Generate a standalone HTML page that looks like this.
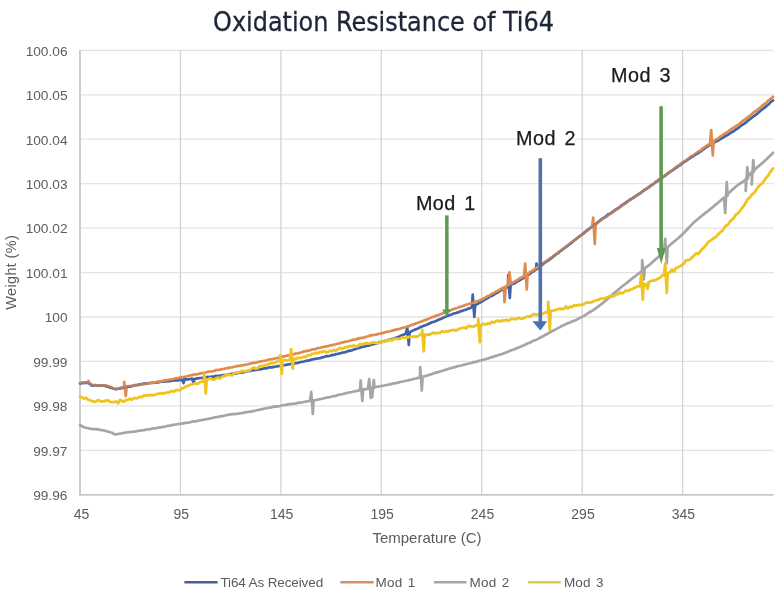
<!DOCTYPE html>
<html><head><meta charset="utf-8"><title>Oxidation Resistance of Ti64</title>
<style>
html,body{margin:0;padding:0;background:#fff;}
body{width:780px;height:592px;overflow:hidden;}
svg{display:block;}
text{font-family:"Liberation Sans",Arial,sans-serif;}
</style></head><body>
<svg width="780" height="592" viewBox="0 0 780 592">
<defs><clipPath id="cb"><rect x="78" y="360" width="70" height="40"/><rect x="540" y="90" width="160" height="180"/></clipPath></defs>
<rect width="780" height="592" fill="#fff"/>
<text x="383.5" y="31.2" text-anchor="middle" font-size="26.6" font-stretch="condensed" textLength="340.8" lengthAdjust="spacingAndGlyphs" style="font-family:'DejaVu Sans Condensed','DejaVu Sans',sans-serif" fill="#1d2638" stroke="#1d2638" stroke-width="0.3">Oxidation Resistance of Ti64</text>
<g stroke="#e3e3e3" stroke-width="1.3"><line x1="81" y1="50.3" x2="773.5" y2="50.3"/><line x1="81" y1="94.8" x2="773.5" y2="94.8"/><line x1="81" y1="139.2" x2="773.5" y2="139.2"/><line x1="81" y1="183.6" x2="773.5" y2="183.6"/><line x1="81" y1="228.1" x2="773.5" y2="228.1"/><line x1="81" y1="272.6" x2="773.5" y2="272.6"/><line x1="81" y1="317.0" x2="773.5" y2="317.0"/><line x1="81" y1="361.4" x2="773.5" y2="361.4"/><line x1="81" y1="405.9" x2="773.5" y2="405.9"/><line x1="81" y1="450.4" x2="773.5" y2="450.4"/></g>
<g stroke="#d3d3d3" stroke-width="1.3"><line x1="180.4" y1="50.3" x2="180.4" y2="494.8"/><line x1="280.9" y1="50.3" x2="280.9" y2="494.8"/><line x1="381.3" y1="50.3" x2="381.3" y2="494.8"/><line x1="481.7" y1="50.3" x2="481.7" y2="494.8"/><line x1="582.2" y1="50.3" x2="582.2" y2="494.8"/><line x1="682.6" y1="50.3" x2="682.6" y2="494.8"/></g>
<g stroke="#c9c9c9" stroke-width="1.8"><line x1="80" y1="50" x2="80" y2="495.5"/><line x1="79" y1="494.8" x2="773.5" y2="494.8"/></g>
<g font-size="13.7" fill="#5e5e5e"><text x="67.5" y="500.1" text-anchor="end">99.96</text><text x="67.5" y="455.7" text-anchor="end">99.97</text><text x="67.5" y="411.2" text-anchor="end">99.98</text><text x="67.5" y="366.8" text-anchor="end">99.99</text><text x="67.5" y="322.3" text-anchor="end">100</text><text x="67.5" y="277.9" text-anchor="end">100.01</text><text x="67.5" y="233.4" text-anchor="end">100.02</text><text x="67.5" y="189.0" text-anchor="end">100.03</text><text x="67.5" y="144.5" text-anchor="end">100.04</text><text x="67.5" y="100.0" text-anchor="end">100.05</text><text x="67.5" y="55.6" text-anchor="end">100.06</text></g>
<g font-size="14" fill="#5b5b5b" text-anchor="middle"><text x="81.6" y="519">45</text><text x="181.2" y="519">95</text><text x="281.7" y="519">145</text><text x="382.1" y="519">195</text><text x="482.5" y="519">245</text><text x="583.0" y="519">295</text><text x="683.4" y="519">345</text></g>
<text x="427" y="542.7" text-anchor="middle" font-size="15" fill="#5b5b5b">Temperature (C)</text>
<text transform="translate(16,272.3) rotate(-90)" text-anchor="middle" font-size="14.5" letter-spacing="0.35" fill="#5b5b5b">Weight (%)</text>
<g fill="none" stroke-linejoin="round" stroke-linecap="round">
<path d="M80.0 383.5 L82.0 383.1 L84.0 383.0 L86.0 382.7 L88.0 382.9 L90.0 384.2 L92.0 385.7 L94.0 385.4 L96.0 385.4 L98.0 385.6 L100.0 385.5 L102.0 385.6 L104.0 385.6 L106.0 386.1 L108.0 386.6 L110.0 387.6 L112.0 388.0 L114.0 388.8 L116.0 389.2 L118.0 388.7 L120.0 388.4 L122.0 387.9 L124.0 387.8 L126.0 387.3 L128.0 386.7 L130.0 386.6 L132.0 386.0 L134.0 385.6 L136.0 385.0 L138.0 384.9 L140.0 384.4 L142.0 384.0 L144.0 383.7 L146.0 383.5 L148.0 383.4 L150.0 383.0 L152.0 383.0 L154.0 382.7 L156.0 382.6 L158.0 382.3 L160.0 382.0 L162.0 381.5 L164.0 381.6 L166.0 381.5 L168.0 381.2 L170.0 381.1 L172.0 380.7 L174.0 380.5 L176.0 380.3 L178.0 380.4 L180.0 380.0 L182.0 379.7 L183.5 383.0 L184.8 379.4 L184.0 379.4 L186.0 379.4 L188.0 379.4 L190.0 379.0 L192.0 378.7 L193.5 382.5 L194.8 378.8 L194.0 378.8 L196.0 378.6 L198.0 378.3 L200.0 378.0 L202.0 377.9 L204.0 377.6 L206.0 377.4 L208.0 376.9 L210.0 377.0 L212.0 376.6 L214.0 376.7 L216.0 375.8 L218.0 376.0 L220.0 375.7 L222.0 375.3 L224.0 375.1 L226.0 374.9 L228.0 374.6 L230.0 374.1 L232.0 373.9 L234.0 373.7 L236.0 373.5 L238.0 373.0 L240.0 372.6 L242.0 372.3 L244.0 372.1 L246.0 371.5 L248.0 371.1 L250.0 371.0 L252.0 370.5 L254.0 370.2 L256.0 370.0 L258.0 369.7 L260.0 369.1 L262.0 369.1 L264.0 368.4 L266.0 368.4 L268.0 367.7 L270.0 367.4 L272.0 367.4 L274.0 366.9 L276.0 366.5 L278.0 366.2 L280.0 366.0 L282.0 365.6 L284.0 365.2 L286.0 365.0 L288.0 364.4 L290.0 364.1 L292.0 363.7 L294.0 363.5 L296.0 363.1 L298.0 362.8 L300.0 362.2 L302.0 361.8 L304.0 361.5 L306.0 360.8 L308.0 360.6 L310.0 360.1 L312.0 359.5 L314.0 359.1 L316.0 358.7 L318.0 358.5 L320.0 358.2 L322.0 357.4 L324.0 357.0 L326.0 356.2 L328.0 356.1 L330.0 355.7 L332.0 355.1 L334.0 354.9 L336.0 354.1 L338.0 353.8 L340.0 353.4 L342.0 352.7 L344.0 352.5 L346.0 352.0 L348.0 351.1 L350.0 350.6 L352.0 350.3 L354.0 349.6 L356.0 348.7 L358.0 348.2 L360.0 347.6 L362.0 347.0 L364.0 346.6 L366.0 346.0 L368.0 345.7 L370.0 345.1 L372.0 344.5 L374.0 344.0 L376.0 343.6 L378.0 342.9 L380.0 342.1 L382.0 341.9 L384.0 341.2 L386.0 340.9 L388.0 340.1 L390.0 339.6 L392.0 339.0 L394.0 338.6 L396.0 337.7 L398.0 336.9 L400.0 336.2 L402.0 335.2 L404.0 334.4 L406.0 333.5 L407.2 327.0 L408.8 344.8 L409.6 332.7 L408.0 332.7 L410.0 332.1 L412.0 330.9 L414.0 330.1 L416.0 329.2 L418.0 328.5 L420.0 327.3 L422.0 326.6 L424.0 325.8 L426.0 325.1 L428.0 324.1 L430.0 323.2 L432.0 322.3 L434.0 321.7 L436.0 321.0 L438.0 320.0 L440.0 319.2 L442.0 318.4 L444.0 317.3 L446.0 316.6 L448.0 315.8 L450.0 315.1 L452.0 314.3 L454.0 313.4 L456.0 313.0 L458.0 312.4 L460.0 311.5 L462.0 310.9 L464.0 310.3 L466.0 309.7 L468.0 308.6 L470.0 308.2 L472.0 307.0 L472.7 294.6 L474.3 317.0 L475.1 306.4 L474.0 306.2 L476.0 304.8 L478.0 303.6 L480.0 302.5 L482.0 301.5 L484.0 300.1 L486.0 299.0 L488.0 297.9 L490.0 296.5 L492.0 295.8 L494.0 294.5 L496.0 293.3 L498.0 292.3 L500.0 290.9 L502.0 289.9 L504.0 289.0 L506.0 287.8 L508.0 286.3 L508.2 275.0 L509.8 298.0 L510.6 285.7 L510.0 285.0 L512.0 284.3 L514.0 283.5 L516.0 282.2 L518.0 281.1 L520.0 280.1 L522.0 278.7 L524.0 277.7 L526.0 276.5 L528.0 275.1 L530.0 273.8 L532.0 272.2 L534.0 271.0 L536.0 269.4 L536.5 263.7 L537.8 268.8 L538.0 268.2 L540.0 266.9 L542.0 264.9 L544.0 263.2 L546.0 261.9 L548.0 260.5 L550.0 259.2 L552.0 257.7 L554.0 255.9 L556.0 254.4 L558.0 253.2 L560.0 251.3 L562.0 250.1 L564.0 248.3 L566.0 246.9 L568.0 245.4 L570.0 243.8 L572.0 242.3 L574.0 240.5 L576.0 239.1 L578.0 237.5 L580.0 236.0 L582.0 234.6 L584.0 232.9 L586.0 231.2 L588.0 229.7 L590.0 228.2 L592.0 226.8 L594.0 225.0 L596.0 223.8 L598.0 222.1 L600.0 220.6 L602.0 218.9 L604.0 217.7 L606.0 216.4 L608.0 214.6 L610.0 213.7 L612.0 212.3 L614.0 210.8 L616.0 209.4 L618.0 208.3 L620.0 206.8 L622.0 205.1 L624.0 203.9 L626.0 202.5 L628.0 201.2 L630.0 199.5 L632.0 198.7 L634.0 197.1 L636.0 195.9 L638.0 194.5 L640.0 193.3 L642.0 191.8 L644.0 190.3 L646.0 189.1 L648.0 187.9 L650.0 186.2 L652.0 185.0 L654.0 183.5 L656.0 181.9 L658.0 180.8 L660.0 179.1 L662.0 177.9 L664.0 176.3 L666.0 175.0 L668.0 173.3 L670.0 171.9 L672.0 170.8 L674.0 169.2 L676.0 167.8 L678.0 166.3 L680.0 165.1 L682.0 163.4 L684.0 162.1 L686.0 160.9 L688.0 159.4 L690.0 158.1 L692.0 156.9 L694.0 155.6 L696.0 154.2 L698.0 153.2 L700.0 151.8 L702.0 150.4 L704.0 148.9 L706.0 147.5 L708.0 146.1 L710.0 144.9 L712.0 143.5 L714.0 142.5 L716.0 141.6 L718.0 140.6 L720.0 139.4 L722.0 138.0 L724.0 137.0 L726.0 135.7 L728.0 134.7 L730.0 133.3 L732.0 132.1 L734.0 131.0 L736.0 129.4 L738.0 128.3 L740.0 126.5 L742.0 125.0 L744.0 123.8 L746.0 122.4 L748.0 120.6 L750.0 119.2 L752.0 117.5 L754.0 116.1 L756.0 114.7 L758.0 112.9 L760.0 111.2 L762.0 109.5 L764.0 108.1 L766.0 106.4 L768.0 104.7 L770.0 102.9 L772.0 100.9 L773.0 100.5" stroke="#3f62a8" stroke-width="2.7"/>
<path d="M80.0 383.3 L82.0 382.4 L84.0 382.7 L86.0 382.5 L88.0 382.5 L88.5 381.0 L89.8 383.1 L90.0 383.7 L92.0 384.7 L94.0 385.1 L96.0 385.1 L98.0 385.7 L100.0 385.3 L102.0 385.3 L104.0 385.4 L106.0 385.6 L108.0 386.0 L110.0 386.7 L112.0 387.6 L114.0 388.7 L116.0 389.1 L118.0 388.6 L120.0 388.0 L122.0 387.6 L124.0 386.9 L124.2 381.8 L125.8 396.0 L126.6 386.6 L126.0 386.4 L128.0 386.1 L130.0 386.0 L132.0 386.0 L134.0 385.4 L136.0 385.2 L138.0 385.1 L140.0 384.6 L142.0 384.4 L144.0 384.3 L146.0 383.9 L148.0 383.5 L150.0 383.3 L152.0 382.4 L154.0 382.7 L156.0 382.0 L158.0 381.5 L160.0 381.4 L162.0 381.1 L164.0 380.6 L166.0 380.1 L168.0 379.9 L170.0 379.5 L172.0 379.3 L174.0 378.8 L176.0 378.3 L178.0 378.1 L180.0 377.5 L182.0 377.0 L184.0 376.9 L186.0 376.5 L188.0 376.0 L190.0 375.5 L192.0 375.2 L194.0 374.4 L196.0 374.5 L198.0 374.1 L200.0 373.4 L202.0 373.2 L204.0 372.7 L206.0 372.5 L208.0 371.7 L210.0 371.5 L212.0 371.3 L214.0 371.0 L216.0 370.1 L218.0 369.9 L220.0 369.6 L222.0 369.1 L224.0 369.0 L226.0 368.2 L228.0 368.1 L230.0 367.5 L232.0 367.5 L234.0 366.8 L236.0 366.4 L238.0 365.8 L240.0 365.9 L242.0 365.4 L244.0 365.0 L246.0 364.7 L248.0 364.2 L250.0 363.6 L252.0 363.2 L254.0 362.8 L256.0 362.7 L258.0 361.9 L260.0 361.6 L262.0 361.2 L264.0 360.8 L266.0 360.5 L268.0 359.8 L270.0 359.3 L272.0 359.1 L274.0 358.8 L276.0 358.3 L278.0 357.8 L280.0 357.2 L282.0 356.8 L284.0 356.3 L286.0 356.0 L288.0 355.3 L290.0 355.0 L292.0 354.4 L294.0 354.1 L296.0 353.5 L298.0 353.4 L300.0 352.8 L302.0 352.3 L304.0 351.3 L306.0 351.1 L308.0 350.6 L310.0 350.3 L312.0 349.4 L314.0 349.4 L316.0 348.9 L318.0 348.1 L320.0 347.7 L322.0 347.2 L324.0 346.9 L326.0 346.5 L328.0 346.2 L330.0 345.4 L332.0 345.1 L334.0 344.5 L336.0 344.3 L338.0 343.6 L340.0 343.2 L342.0 342.4 L344.0 342.1 L346.0 341.5 L348.0 341.3 L350.0 340.7 L352.0 340.1 L354.0 339.6 L356.0 339.3 L358.0 338.6 L360.0 338.1 L362.0 337.8 L364.0 337.6 L366.0 336.7 L368.0 336.2 L370.0 335.6 L372.0 335.1 L374.0 335.0 L376.0 334.6 L378.0 334.0 L380.0 333.6 L382.0 333.1 L384.0 332.6 L386.0 331.9 L388.0 331.6 L390.0 331.2 L392.0 330.6 L394.0 330.1 L396.0 329.6 L398.0 329.1 L400.0 328.8 L402.0 328.0 L404.0 327.5 L406.0 327.0 L408.0 326.4 L410.0 325.8 L412.0 324.6 L414.0 324.3 L416.0 323.3 L418.0 322.7 L420.0 322.0 L422.0 321.3 L424.0 320.5 L426.0 319.7 L428.0 319.1 L430.0 318.1 L432.0 317.3 L434.0 316.7 L436.0 315.7 L438.0 315.4 L440.0 314.4 L442.0 313.8 L444.0 312.7 L446.0 311.9 L448.0 311.2 L450.0 310.6 L452.0 309.6 L454.0 309.0 L456.0 308.2 L458.0 307.8 L460.0 306.8 L462.0 306.4 L464.0 305.5 L466.0 304.8 L468.0 304.2 L470.0 303.5 L472.0 303.0 L474.0 302.5 L476.0 301.6 L478.0 300.9 L480.0 300.2 L482.0 299.2 L484.0 298.2 L486.0 297.1 L488.0 295.9 L490.0 295.2 L492.0 293.7 L494.0 292.9 L496.0 291.7 L498.0 290.8 L500.0 289.5 L502.0 288.3 L504.0 287.4 L504.5 302.2 L505.8 286.8 L506.0 286.2 L508.0 285.2 L509.5 272.3 L510.8 284.1 L510.0 284.1 L512.0 283.0 L514.0 281.9 L516.0 280.7 L518.0 279.6 L520.0 278.2 L522.0 277.3 L524.0 275.9 L525.2 263.7 L526.8 289.5 L527.6 275.0 L526.0 275.0 L528.0 273.8 L530.0 272.0 L532.0 271.0 L534.0 269.7 L536.0 268.2 L538.0 267.0 L540.0 265.5 L542.0 263.9 L544.0 262.7 L546.0 261.3 L548.0 259.9 L550.0 258.3 L552.0 257.2 L554.0 255.7 L556.0 254.0 L558.0 252.6 L560.0 251.2 L562.0 249.6 L564.0 248.4 L566.0 246.7 L568.0 245.0 L570.0 243.5 L572.0 242.1 L574.0 240.9 L576.0 239.0 L578.0 237.5 L580.0 236.1 L582.0 234.5 L584.0 233.3 L586.0 231.4 L588.0 230.1 L590.0 228.5 L592.0 227.0 L593.2 217.5 L594.8 243.9 L595.6 225.2 L594.0 225.2 L596.0 224.2 L598.0 222.4 L600.0 221.0 L602.0 219.4 L604.0 218.0 L606.0 216.8 L608.0 215.5 L610.0 214.0 L612.0 212.7 L614.0 211.3 L616.0 209.8 L618.0 208.5 L620.0 207.1 L622.0 205.6 L624.0 204.3 L626.0 203.1 L628.0 201.5 L630.0 200.1 L632.0 198.9 L634.0 197.7 L636.0 196.0 L638.0 194.6 L640.0 193.2 L642.0 192.0 L644.0 190.1 L646.0 189.0 L648.0 187.7 L650.0 185.9 L652.0 184.8 L654.0 183.2 L656.0 181.6 L658.0 180.3 L660.0 178.6 L662.0 177.3 L664.0 176.2 L666.0 174.4 L668.0 173.3 L670.0 171.6 L672.0 170.3 L674.0 168.8 L676.0 167.0 L678.0 165.8 L680.0 164.5 L682.0 162.9 L684.0 161.5 L686.0 160.3 L688.0 158.8 L690.0 157.2 L692.0 156.0 L694.0 154.8 L696.0 153.2 L698.0 152.0 L700.0 150.7 L702.0 149.1 L704.0 147.5 L706.0 146.1 L708.0 144.9 L710.0 143.6 L711.2 130.0 L712.8 155.5 L713.6 142.2 L712.0 142.2 L714.0 140.9 L716.0 139.5 L718.0 138.3 L720.0 136.9 L722.0 135.6 L724.0 134.2 L726.0 132.8 L728.0 131.6 L730.0 130.1 L732.0 128.7 L734.0 127.5 L736.0 126.0 L738.0 125.0 L740.0 123.2 L742.0 121.5 L744.0 120.2 L746.0 118.6 L748.0 117.0 L750.0 115.7 L752.0 113.9 L754.0 112.0 L756.0 111.0 L758.0 109.2 L760.0 107.9 L762.0 105.9 L764.0 104.2 L766.0 103.0 L768.0 100.9 L770.0 99.4 L772.0 97.9 L773.0 96.8" stroke="#e08a4e" stroke-width="2.7"/>
<path d="M80.0 383.5 L82.0 383.1 L84.0 383.0 L86.0 382.7 L88.0 382.9 L90.0 384.2 L92.0 385.7 L94.0 385.4 L96.0 385.4 L98.0 385.6 L100.0 385.5 L102.0 385.6 L104.0 385.6 L106.0 386.1 L108.0 386.6 L110.0 387.6 L112.0 388.0 L114.0 388.8 L116.0 389.2 L118.0 388.7 L120.0 388.4 L122.0 387.9 L124.0 387.8 L126.0 387.3 L128.0 386.7 L130.0 386.6 L132.0 386.0 L134.0 385.6 L136.0 385.0 L138.0 384.9 L140.0 384.4 L142.0 384.0 L144.0 383.7 L146.0 383.5 L148.0 383.4 L150.0 383.0 L152.0 383.0 L154.0 382.7 L156.0 382.6 L158.0 382.3 L160.0 382.0 L162.0 381.5 L164.0 381.6 L166.0 381.5 L168.0 381.2 L170.0 381.1 L172.0 380.7 L174.0 380.5 L176.0 380.3 L178.0 380.4 L180.0 380.0 L182.0 379.7 L183.5 383.0 L184.8 379.4 L184.0 379.4 L186.0 379.4 L188.0 379.4 L190.0 379.0 L192.0 378.7 L193.5 382.5 L194.8 378.8 L194.0 378.8 L196.0 378.6 L198.0 378.3 L200.0 378.0 L202.0 377.9 L204.0 377.6 L206.0 377.4 L208.0 376.9 L210.0 377.0 L212.0 376.6 L214.0 376.7 L216.0 375.8 L218.0 376.0 L220.0 375.7 L222.0 375.3 L224.0 375.1 L226.0 374.9 L228.0 374.6 L230.0 374.1 L232.0 373.9 L234.0 373.7 L236.0 373.5 L238.0 373.0 L240.0 372.6 L242.0 372.3 L244.0 372.1 L246.0 371.5 L248.0 371.1 L250.0 371.0 L252.0 370.5 L254.0 370.2 L256.0 370.0 L258.0 369.7 L260.0 369.1 L262.0 369.1 L264.0 368.4 L266.0 368.4 L268.0 367.7 L270.0 367.4 L272.0 367.4 L274.0 366.9 L276.0 366.5 L278.0 366.2 L280.0 366.0 L282.0 365.6 L284.0 365.2 L286.0 365.0 L288.0 364.4 L290.0 364.1 L292.0 363.7 L294.0 363.5 L296.0 363.1 L298.0 362.8 L300.0 362.2 L302.0 361.8 L304.0 361.5 L306.0 360.8 L308.0 360.6 L310.0 360.1 L312.0 359.5 L314.0 359.1 L316.0 358.7 L318.0 358.5 L320.0 358.2 L322.0 357.4 L324.0 357.0 L326.0 356.2 L328.0 356.1 L330.0 355.7 L332.0 355.1 L334.0 354.9 L336.0 354.1 L338.0 353.8 L340.0 353.4 L342.0 352.7 L344.0 352.5 L346.0 352.0 L348.0 351.1 L350.0 350.6 L352.0 350.3 L354.0 349.6 L356.0 348.7 L358.0 348.2 L360.0 347.6 L362.0 347.0 L364.0 346.6 L366.0 346.0 L368.0 345.7 L370.0 345.1 L372.0 344.5 L374.0 344.0 L376.0 343.6 L378.0 342.9 L380.0 342.1 L382.0 341.9 L384.0 341.2 L386.0 340.9 L388.0 340.1 L390.0 339.6 L392.0 339.0 L394.0 338.6 L396.0 337.7 L398.0 336.9 L400.0 336.2 L402.0 335.2 L404.0 334.4 L406.0 333.5 L407.2 327.0 L408.8 344.8 L409.6 332.7 L408.0 332.7 L410.0 332.1 L412.0 330.9 L414.0 330.1 L416.0 329.2 L418.0 328.5 L420.0 327.3 L422.0 326.6 L424.0 325.8 L426.0 325.1 L428.0 324.1 L430.0 323.2 L432.0 322.3 L434.0 321.7 L436.0 321.0 L438.0 320.0 L440.0 319.2 L442.0 318.4 L444.0 317.3 L446.0 316.6 L448.0 315.8 L450.0 315.1 L452.0 314.3 L454.0 313.4 L456.0 313.0 L458.0 312.4 L460.0 311.5 L462.0 310.9 L464.0 310.3 L466.0 309.7 L468.0 308.6 L470.0 308.2 L472.0 307.0 L472.7 294.6 L474.3 317.0 L475.1 306.4 L474.0 306.2 L476.0 304.8 L478.0 303.6 L480.0 302.5 L482.0 301.5 L484.0 300.1 L486.0 299.0 L488.0 297.9 L490.0 296.5 L492.0 295.8 L494.0 294.5 L496.0 293.3 L498.0 292.3 L500.0 290.9 L502.0 289.9 L504.0 289.0 L506.0 287.8 L508.0 286.3 L508.2 275.0 L509.8 298.0 L510.6 285.7 L510.0 285.0 L512.0 284.3 L514.0 283.5 L516.0 282.2 L518.0 281.1 L520.0 280.1 L522.0 278.7 L524.0 277.7 L526.0 276.5 L528.0 275.1 L530.0 273.8 L532.0 272.2 L534.0 271.0 L536.0 269.4 L536.5 263.7 L537.8 268.8 L538.0 268.2 L540.0 266.9 L542.0 264.9 L544.0 263.2 L546.0 261.9 L548.0 260.5 L550.0 259.2 L552.0 257.7 L554.0 255.9 L556.0 254.4 L558.0 253.2 L560.0 251.3 L562.0 250.1 L564.0 248.3 L566.0 246.9 L568.0 245.4 L570.0 243.8 L572.0 242.3 L574.0 240.5 L576.0 239.1 L578.0 237.5 L580.0 236.0 L582.0 234.6 L584.0 232.9 L586.0 231.2 L588.0 229.7 L590.0 228.2 L592.0 226.8 L594.0 225.0 L596.0 223.8 L598.0 222.1 L600.0 220.6 L602.0 218.9 L604.0 217.7 L606.0 216.4 L608.0 214.6 L610.0 213.7 L612.0 212.3 L614.0 210.8 L616.0 209.4 L618.0 208.3 L620.0 206.8 L622.0 205.1 L624.0 203.9 L626.0 202.5 L628.0 201.2 L630.0 199.5 L632.0 198.7 L634.0 197.1 L636.0 195.9 L638.0 194.5 L640.0 193.3 L642.0 191.8 L644.0 190.3 L646.0 189.1 L648.0 187.9 L650.0 186.2 L652.0 185.0 L654.0 183.5 L656.0 181.9 L658.0 180.8 L660.0 179.1 L662.0 177.9 L664.0 176.3 L666.0 175.0 L668.0 173.3 L670.0 171.9 L672.0 170.8 L674.0 169.2 L676.0 167.8 L678.0 166.3 L680.0 165.1 L682.0 163.4 L684.0 162.1 L686.0 160.9 L688.0 159.4 L690.0 158.1 L692.0 156.9 L694.0 155.6 L696.0 154.2 L698.0 153.2 L700.0 151.8 L702.0 150.4 L704.0 148.9 L706.0 147.5 L708.0 146.1 L710.0 144.9 L712.0 143.5 L714.0 142.5 L716.0 141.6 L718.0 140.6 L720.0 139.4 L722.0 138.0 L724.0 137.0 L726.0 135.7 L728.0 134.7 L730.0 133.3 L732.0 132.1 L734.0 131.0 L736.0 129.4 L738.0 128.3 L740.0 126.5 L742.0 125.0 L744.0 123.8 L746.0 122.4 L748.0 120.6 L750.0 119.2 L752.0 117.5 L754.0 116.1 L756.0 114.7 L758.0 112.9 L760.0 111.2 L762.0 109.5 L764.0 108.1 L766.0 106.4 L768.0 104.7 L770.0 102.9 L772.0 100.9 L773.0 100.5" stroke="#4169b0" stroke-width="2.2" opacity="0.4" clip-path="url(#cb)"/>
<path d="M80.0 425.0 L82.0 426.3 L84.0 427.2 L86.0 427.8 L88.0 428.2 L90.0 428.6 L92.0 429.0 L94.0 429.2 L96.0 429.2 L98.0 429.4 L100.0 429.9 L102.0 430.2 L104.0 430.4 L106.0 431.1 L108.0 431.5 L110.0 432.2 L112.0 432.7 L114.0 434.1 L116.0 434.3 L118.0 434.0 L120.0 433.7 L122.0 433.2 L124.0 432.9 L126.0 432.5 L128.0 432.1 L130.0 432.1 L132.0 431.9 L134.0 431.7 L136.0 431.4 L138.0 430.8 L140.0 430.6 L142.0 430.3 L144.0 430.1 L146.0 429.6 L148.0 429.4 L150.0 429.1 L152.0 428.7 L154.0 428.4 L156.0 428.2 L158.0 427.7 L160.0 427.4 L162.0 427.1 L164.0 426.6 L166.0 426.3 L168.0 425.8 L170.0 425.6 L172.0 425.1 L174.0 424.7 L176.0 424.5 L178.0 424.0 L180.0 423.8 L182.0 423.6 L184.0 423.1 L186.0 422.8 L188.0 422.6 L190.0 422.3 L192.0 421.7 L194.0 421.4 L196.0 421.3 L198.0 420.9 L200.0 420.3 L202.0 420.0 L204.0 419.7 L206.0 419.2 L208.0 418.9 L210.0 418.5 L212.0 418.1 L214.0 417.5 L216.0 417.2 L218.0 417.0 L220.0 416.3 L222.0 416.1 L224.0 415.7 L226.0 415.3 L228.0 414.9 L230.0 414.5 L232.0 414.2 L234.0 414.1 L236.0 413.8 L238.0 413.6 L240.0 413.3 L242.0 413.0 L244.0 412.6 L246.0 412.2 L248.0 412.0 L250.0 411.7 L252.0 411.4 L254.0 410.8 L256.0 410.5 L258.0 410.0 L260.0 409.7 L262.0 409.1 L264.0 408.7 L266.0 408.3 L268.0 407.9 L270.0 407.7 L272.0 407.1 L274.0 406.6 L276.0 406.6 L278.0 406.3 L280.0 406.0 L282.0 405.5 L284.0 405.2 L286.0 404.9 L288.0 404.4 L290.0 404.2 L292.0 404.0 L294.0 403.6 L296.0 403.5 L298.0 402.9 L300.0 402.6 L302.0 402.5 L304.0 402.0 L306.0 401.6 L308.0 401.2 L310.0 401.0 L311.2 391.8 L312.8 414.0 L313.6 400.8 L312.0 400.8 L314.0 400.3 L316.0 400.0 L318.0 399.5 L320.0 399.2 L322.0 398.7 L324.0 398.2 L326.0 397.8 L328.0 397.4 L330.0 397.0 L332.0 396.5 L334.0 396.1 L336.0 395.8 L338.0 395.0 L340.0 394.5 L342.0 394.3 L344.0 393.8 L346.0 393.3 L348.0 392.8 L350.0 392.3 L352.0 392.0 L354.0 391.5 L356.0 391.2 L358.0 390.6 L360.0 390.2 L360.7 380.6 L362.3 401.0 L363.1 390.0 L362.0 389.9 L364.0 389.4 L366.0 389.2 L368.0 388.7 L369.2 379.0 L370.8 397.8 L371.6 388.3 L370.0 388.3 L372.0 387.9 L372.2 397.0 L373.8 380.0 L374.6 387.7 L374.0 387.5 L376.0 387.0 L378.0 386.6 L380.0 386.2 L382.0 385.8 L384.0 385.5 L386.0 385.1 L388.0 384.7 L390.0 384.4 L392.0 383.9 L394.0 383.4 L396.0 383.1 L398.0 382.6 L400.0 382.0 L402.0 381.7 L404.0 381.3 L406.0 380.8 L408.0 380.4 L410.0 379.9 L412.0 379.5 L414.0 378.9 L416.0 378.5 L418.0 377.9 L420.0 377.5 L420.2 367.0 L421.8 390.4 L422.6 377.1 L422.0 376.7 L424.0 376.4 L426.0 375.9 L428.0 375.2 L430.0 374.6 L432.0 374.0 L434.0 373.2 L436.0 372.6 L438.0 372.1 L440.0 371.5 L442.0 371.0 L444.0 370.2 L446.0 369.8 L448.0 368.9 L450.0 368.4 L452.0 367.8 L454.0 367.4 L456.0 366.7 L458.0 366.0 L460.0 365.8 L462.0 365.3 L464.0 364.7 L466.0 364.2 L468.0 363.7 L470.0 363.3 L472.0 362.8 L474.0 362.1 L476.0 361.9 L478.0 361.1 L480.0 360.5 L482.0 360.1 L484.0 359.5 L486.0 359.1 L488.0 358.4 L490.0 357.7 L492.0 357.1 L494.0 356.5 L496.0 355.9 L498.0 355.3 L500.0 354.5 L502.0 354.1 L504.0 353.2 L506.0 352.5 L508.0 351.8 L510.0 350.8 L512.0 350.1 L514.0 349.4 L516.0 348.6 L518.0 347.7 L520.0 346.9 L522.0 346.0 L524.0 345.2 L526.0 344.2 L528.0 343.3 L530.0 342.7 L532.0 341.5 L534.0 340.6 L536.0 339.9 L538.0 338.9 L540.0 337.8 L542.0 336.7 L544.0 335.7 L546.0 334.5 L548.0 333.5 L550.0 332.4 L552.0 331.2 L554.0 330.2 L556.0 329.1 L558.0 328.1 L560.0 327.1 L562.0 325.8 L564.0 325.1 L566.0 324.0 L568.0 323.1 L570.0 322.5 L572.0 321.5 L574.0 320.7 L576.0 320.0 L578.0 318.9 L580.0 317.9 L582.0 316.9 L584.0 315.9 L586.0 314.7 L588.0 313.2 L590.0 312.0 L592.0 310.8 L594.0 309.6 L596.0 308.1 L598.0 306.7 L600.0 305.2 L602.0 303.6 L604.0 302.0 L606.0 300.4 L608.0 298.5 L610.0 296.9 L612.0 295.2 L614.0 293.2 L616.0 291.7 L618.0 289.9 L620.0 288.3 L622.0 286.5 L624.0 285.0 L626.0 283.5 L628.0 281.9 L630.0 280.2 L632.0 278.7 L634.0 277.2 L636.0 275.5 L638.0 274.0 L640.0 272.6 L642.0 270.7 L642.2 260.0 L643.8 279.4 L644.6 269.9 L644.0 269.1 L646.0 267.4 L648.0 265.8 L650.0 264.4 L652.0 262.6 L654.0 260.8 L656.0 259.0 L658.0 257.2 L660.0 255.3 L662.0 253.0 L664.0 251.1 L665.2 238.9 L666.8 263.3 L667.6 248.9 L666.0 248.9 L668.0 246.9 L670.0 245.1 L672.0 243.3 L674.0 241.6 L676.0 240.0 L678.0 238.5 L680.0 236.6 L682.0 234.8 L684.0 232.8 L686.0 230.8 L688.0 228.5 L690.0 226.4 L692.0 224.4 L694.0 222.3 L696.0 220.6 L698.0 219.0 L700.0 217.3 L702.0 215.6 L704.0 214.1 L706.0 212.4 L708.0 211.1 L710.0 209.3 L712.0 207.8 L714.0 206.0 L716.0 204.4 L718.0 202.8 L720.0 201.1 L722.0 199.2 L724.0 197.7 L725.2 213.0 L726.8 182.0 L727.6 195.7 L726.0 195.7 L728.0 193.7 L730.0 191.9 L732.0 190.0 L734.0 188.2 L736.0 186.5 L738.0 185.0 L740.0 183.5 L742.0 182.3 L744.0 181.0 L746.0 179.1 L745.7 191.0 L747.3 167.0 L748.1 178.4 L748.0 176.3 L750.0 174.0 L752.0 171.8 L751.7 184.5 L753.3 160.0 L754.1 171.4 L754.0 170.1 L756.0 168.4 L758.0 166.6 L760.0 165.1 L762.0 163.2 L764.0 161.5 L766.0 159.7 L768.0 157.7 L770.0 155.7 L772.0 154.0 L773.0 152.7" stroke="#a5a5a5" stroke-width="2.7"/>
<path d="M80.0 396.6 L82.0 397.4 L84.0 398.7 L86.0 397.8 L88.0 399.7 L90.0 400.2 L92.0 401.0 L94.0 401.9 L96.0 401.5 L98.0 400.1 L100.0 401.1 L102.0 401.4 L104.0 401.4 L106.0 400.6 L108.0 400.4 L110.0 401.9 L112.0 402.1 L114.0 402.2 L116.0 401.3 L118.0 403.2 L120.0 399.9 L122.0 400.8 L124.0 401.7 L126.0 399.9 L128.0 399.8 L130.0 398.6 L132.0 399.8 L134.0 397.8 L136.0 398.4 L138.0 397.8 L140.0 396.6 L142.0 397.2 L144.0 395.4 L146.0 395.4 L148.0 395.5 L150.0 395.0 L152.0 395.2 L154.0 395.2 L156.0 394.2 L158.0 393.8 L160.0 393.5 L162.0 393.2 L164.0 393.6 L166.0 392.6 L168.0 392.6 L170.0 391.9 L172.0 391.0 L174.0 391.6 L176.0 390.0 L178.0 390.1 L180.0 390.4 L182.0 388.2 L184.0 388.0 L186.0 386.2 L188.0 386.0 L190.0 384.6 L192.0 384.5 L194.0 383.7 L196.0 383.4 L198.0 383.6 L200.0 382.1 L202.0 381.7 L204.0 380.7 L204.2 373.8 L205.8 393.3 L206.6 380.4 L206.0 380.1 L208.0 379.3 L210.0 378.3 L212.0 379.1 L214.0 379.7 L216.0 378.6 L218.0 377.6 L220.0 378.5 L222.0 376.8 L224.0 376.1 L226.0 375.2 L228.0 374.8 L230.0 374.7 L232.0 375.5 L234.0 373.6 L236.0 372.6 L238.0 372.4 L240.0 372.1 L242.0 370.8 L244.0 371.4 L246.0 371.2 L248.0 370.5 L250.0 370.2 L252.0 368.5 L254.0 367.6 L256.0 368.8 L258.0 368.0 L260.0 365.8 L262.0 366.2 L264.0 365.5 L266.0 365.2 L268.0 364.4 L270.0 363.5 L272.0 363.4 L274.0 362.9 L276.0 362.4 L278.0 360.9 L280.0 359.8 L280.2 355.4 L281.8 373.8 L282.6 360.2 L282.0 360.7 L284.0 359.8 L286.0 360.5 L288.0 360.4 L290.0 359.8 L291.2 349.2 L292.8 368.7 L293.6 359.0 L292.0 359.0 L294.0 358.8 L296.0 359.1 L298.0 357.5 L300.0 358.1 L302.0 357.4 L304.0 356.7 L306.0 356.9 L308.0 355.0 L310.0 355.5 L312.0 353.9 L314.0 353.5 L316.0 352.8 L318.0 353.3 L320.0 352.0 L322.0 352.2 L324.0 351.1 L326.0 352.0 L328.0 352.1 L330.0 350.7 L332.0 351.2 L334.0 350.1 L336.0 350.7 L338.0 349.1 L340.0 347.8 L342.0 349.2 L344.0 347.9 L346.0 347.0 L348.0 346.9 L350.0 345.9 L352.0 346.4 L354.0 345.5 L356.0 346.7 L358.0 345.9 L360.0 344.1 L362.0 343.9 L364.0 344.1 L366.0 342.9 L368.0 343.7 L370.0 343.4 L372.0 342.6 L374.0 342.5 L376.0 342.8 L378.0 343.0 L380.0 342.7 L382.0 341.5 L384.0 341.7 L386.0 340.4 L388.0 340.8 L390.0 339.6 L392.0 340.3 L394.0 338.8 L396.0 338.7 L398.0 338.9 L400.0 338.9 L402.0 337.4 L404.0 337.7 L406.0 337.8 L408.0 337.5 L410.0 336.6 L412.0 336.8 L414.0 336.3 L416.0 337.0 L418.0 336.1 L420.0 334.7 L422.0 333.9 L422.2 330.0 L423.8 351.3 L424.6 334.4 L424.0 334.9 L426.0 335.3 L428.0 334.4 L430.0 334.5 L432.0 333.4 L434.0 332.6 L436.0 333.5 L438.0 332.9 L440.0 332.9 L442.0 331.4 L444.0 332.0 L446.0 331.2 L448.0 331.7 L450.0 330.5 L452.0 330.2 L454.0 329.8 L456.0 330.6 L458.0 329.4 L460.0 328.5 L462.0 328.0 L464.0 327.5 L466.0 328.5 L468.0 326.1 L470.0 326.2 L472.0 326.7 L474.0 326.5 L476.0 325.3 L478.0 325.5 L478.2 319.0 L479.8 342.2 L480.6 325.3 L480.0 325.1 L482.0 324.8 L484.0 323.9 L486.0 324.5 L488.0 323.3 L490.0 323.8 L492.0 321.8 L494.0 322.7 L496.0 321.1 L498.0 320.6 L500.0 321.5 L502.0 320.4 L504.0 320.9 L506.0 319.6 L508.0 320.9 L510.0 319.7 L512.0 318.7 L514.0 319.1 L516.0 319.2 L518.0 317.9 L520.0 318.3 L522.0 318.9 L524.0 317.9 L526.0 317.0 L528.0 316.4 L530.0 316.8 L532.0 315.2 L534.0 313.9 L536.0 314.9 L538.0 314.3 L540.0 315.6 L542.0 314.1 L544.0 312.9 L546.0 312.2 L548.0 312.6 L548.2 301.8 L549.8 329.7 L550.6 311.9 L550.0 311.1 L552.0 310.6 L554.0 310.3 L556.0 309.8 L558.0 309.2 L560.0 308.7 L562.0 309.0 L564.0 308.8 L566.0 306.4 L568.0 308.5 L570.0 306.7 L572.0 307.0 L574.0 305.4 L576.0 305.7 L578.0 305.2 L580.0 304.8 L582.0 304.8 L584.0 304.2 L586.0 302.7 L588.0 302.7 L590.0 302.7 L592.0 302.2 L594.0 301.0 L596.0 300.5 L598.0 300.0 L600.0 298.9 L602.0 298.2 L604.0 299.3 L606.0 297.5 L608.0 297.1 L610.0 296.0 L612.0 296.5 L614.0 296.1 L616.0 294.3 L618.0 294.0 L620.0 292.6 L622.0 293.4 L624.0 292.2 L626.0 290.5 L628.0 291.0 L630.0 289.8 L632.0 289.1 L634.0 288.3 L636.0 287.0 L638.0 286.3 L640.0 286.2 L641.2 274.3 L642.8 299.7 L643.6 285.0 L642.0 285.0 L644.0 283.7 L646.0 284.7 L647.5 288.7 L648.8 282.6 L648.0 282.6 L650.0 281.6 L652.0 280.6 L654.0 280.6 L656.0 279.9 L658.0 278.5 L660.0 278.0 L662.0 275.5 L664.0 275.2 L665.2 263.3 L666.8 292.9 L667.6 274.0 L666.0 274.0 L668.0 273.2 L670.0 272.3 L672.0 269.6 L674.0 271.5 L676.0 267.9 L678.0 267.3 L680.0 266.3 L682.0 265.1 L684.0 263.4 L686.0 260.2 L688.0 260.0 L690.0 259.7 L692.0 257.3 L694.0 255.7 L696.0 253.4 L698.0 254.0 L700.0 251.8 L702.0 249.1 L704.0 247.4 L706.0 245.2 L708.0 242.3 L710.0 240.9 L712.0 239.4 L714.0 238.0 L716.0 236.9 L718.0 234.6 L720.0 232.5 L722.0 231.1 L724.0 228.3 L726.0 225.6 L728.0 224.8 L730.0 221.6 L732.0 219.7 L734.0 217.8 L736.0 214.5 L738.0 213.3 L740.0 210.8 L742.0 208.0 L744.0 205.7 L746.0 202.3 L748.0 198.8 L750.0 197.3 L752.0 194.4 L754.0 193.0 L756.0 190.1 L758.0 187.2 L760.0 185.0 L762.0 183.4 L764.0 180.9 L766.0 178.1 L768.0 175.7 L770.0 172.5 L772.0 169.6 L773.0 168.4" stroke="#efc421" stroke-width="2.8"/>
</g>
<g>
<rect x="445.1" y="215.4" width="3.5" height="96" fill="#5e9b52"/>
<path d="M442.1 309.4 L450.8 309.4 L446.8 316.6 Z" fill="#5e9b52"/>
<rect x="538.5" y="158.2" width="3.6" height="164" fill="#4d73ad"/>
<path d="M532.4 321.2 L547.2 321.2 L540.4 330.6 Z" fill="#4670bb"/>
<rect x="659.3" y="106.3" width="3.6" height="143" fill="#5e9b52"/>
<path d="M656.8 248 L665.6 248 L661.2 264 Z" fill="#5e9b52"/>
</g>
<g font-size="19.8" letter-spacing="0.45" word-spacing="2.6" fill="#1a1a1a" stroke="#1a1a1a" stroke-width="0.25">
<text x="415.9" y="210.4">Mod 1</text>
<rect x="517" y="131.5" width="57" height="14" fill="#fff" stroke="none"/><text x="516" y="145.1">Mod 2</text>
<text x="611" y="81.9">Mod 3</text>
</g>
<g stroke-width="2.4">
<line x1="184.4" y1="582.2" x2="217.6" y2="582.2" stroke="#4a5f98"/>
<line x1="340.4" y1="582.2" x2="373.6" y2="582.2" stroke="#d39066"/>
<line x1="433.8" y1="582.2" x2="466.5" y2="582.2" stroke="#a6a6a6"/>
<line x1="528.2" y1="582.2" x2="560.8" y2="582.2" stroke="#e6c64c"/>
</g>
<g font-size="13.5" letter-spacing="-0.12" fill="#5b5b5b">
<text x="220.4" y="586.7">Ti64 As Received</text>
<text x="375.6" y="586.7" word-spacing="1.6" letter-spacing="0.15">Mod 1</text>
<text x="469.6" y="586.7" word-spacing="1.6" letter-spacing="0.15">Mod 2</text>
<text x="563.9" y="586.7" word-spacing="1.6" letter-spacing="0.15">Mod 3</text>
</g>
</svg>
</body></html>
